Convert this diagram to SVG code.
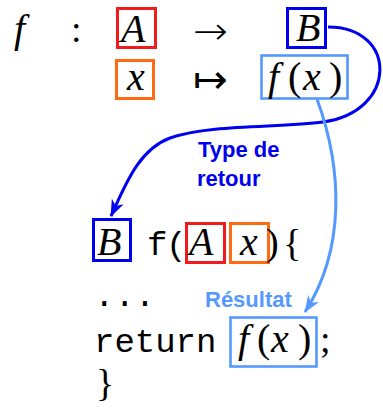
<svg xmlns="http://www.w3.org/2000/svg" width="383" height="408" viewBox="0 0 383 408">
<style>
.m{font-family:"Liberation Serif",serif;font-style:italic;font-size:40px;fill:#000}
.up{font-style:normal}
.r{font-family:"Liberation Serif",serif;font-size:38px;fill:#000}
.sym{font-family:"DejaVu Sans",sans-serif;font-weight:200;font-size:38px;fill:#000}
.tt{font-family:"Liberation Mono",monospace;font-size:34px;fill:#000}
.lbl{font-family:"Liberation Sans",sans-serif;font-weight:bold;font-size:22px}
.bx{fill:none;stroke-width:3}
.red{stroke:#f21b1b}
.org{stroke:#ff6a13}
.blu{stroke:#0000f0}
.lb{stroke:#5599ff;stroke-width:2.6}
.c{fill:none;stroke-width:3}
</style>
<defs>
<marker id="ah1" viewBox="-17 -8 19 16" markerWidth="19" markerHeight="16" refX="0" refY="0" orient="auto" markerUnits="userSpaceOnUse">
<path d="M1,0 L-16,-6.5 L-11,0 L-16,6.5 Z" fill="#0000f0"/>
</marker>
<marker id="ah2" viewBox="-17 -8 19 16" markerWidth="19" markerHeight="16" refX="0" refY="0" orient="auto" markerUnits="userSpaceOnUse">
<path d="M1,0 L-16,-6.5 L-11,0 L-16,6.5 Z" fill="#5599ff"/>
</marker>
</defs>

<g id="header">
<text class="m" x="14" y="42">f</text>
<text class="r" x="71" y="42">:</text>
<text class="sym" x="193" y="44" textLength="35" lengthAdjust="spacingAndGlyphs">→</text>
<text class="sym" x="193" y="92" textLength="35" lengthAdjust="spacingAndGlyphs">↦</text>
</g>
<g id="nodeA">
<rect class="bx red" x="117.5" y="8.5" width="38" height="39"/>
<text class="m" x="121" y="42">A</text>
</g>
<g id="nodeB">
<rect class="bx blu" x="287.5" y="8.5" width="38" height="39"/>
<text class="m" x="296" y="41">B</text>
</g>
<g id="nodeX">
<rect class="bx org" x="116.5" y="60.5" width="37" height="38"/>
<text class="m" x="127" y="90">x</text>
</g>
<g id="nodeFx">
<rect class="bx lb" x="261.5" y="55.5" width="86" height="43"/>
<text class="m" y="90"><tspan x="268">f</tspan><tspan class="up" x="288">(</tspan><tspan x="303">x</tspan><tspan class="up" x="329">)</tspan></text>
</g>

<g id="code">
<g id="codeB">
<rect class="bx blu" x="93.5" y="219.5" width="37" height="41"/>
<text class="m" x="97" y="255">B</text>
</g>
<text class="tt" x="147" y="255">f</text>
<text class="tt" x="166" y="255">(</text>
<g id="codeA">
<rect class="bx red" x="186.5" y="223.5" width="38" height="39"/>
<text class="m" x="189" y="255">A</text>
</g>
<g id="codeX">
<rect class="bx org" x="230.5" y="223.5" width="38" height="39"/>
<text class="m" x="240" y="255">x</text>
</g>
<text class="r" x="266" y="255">)</text>
<text class="r" x="283" y="256">{</text>
<text class="tt" x="94" y="306">...</text>
<text class="tt" x="94" y="352">return</text>
<g id="codeFx">
<rect class="bx lb" x="230.5" y="317.5" width="86" height="49"/>
<text class="m" y="352"><tspan x="238">f</tspan><tspan class="up" x="257">(</tspan><tspan x="271">x</tspan><tspan class="up" x="298">)</tspan></text>
</g>
<text class="r" x="320" y="352">;</text>
<text class="r" x="96" y="396">}</text>
</g>

<g id="connectors">
<path class="c" stroke="#0000f0" d="M328,27 C398,27 398,112 323,122 C280,128 210,124 170,138 C138,150 125,186 111,216" marker-end="url(#ah1)"/>
<path class="c" stroke="#5599ff" d="M317,99 C343,170 345,250 305,312" marker-end="url(#ah2)"/>
<text class="lbl" fill="#0000f0" x="198" y="157">Type de</text>
<text class="lbl" fill="#0000f0" x="197" y="186">retour</text>
<text class="lbl" fill="#5599ff" x="205" y="307">Résultat</text>
</g>
</svg>
